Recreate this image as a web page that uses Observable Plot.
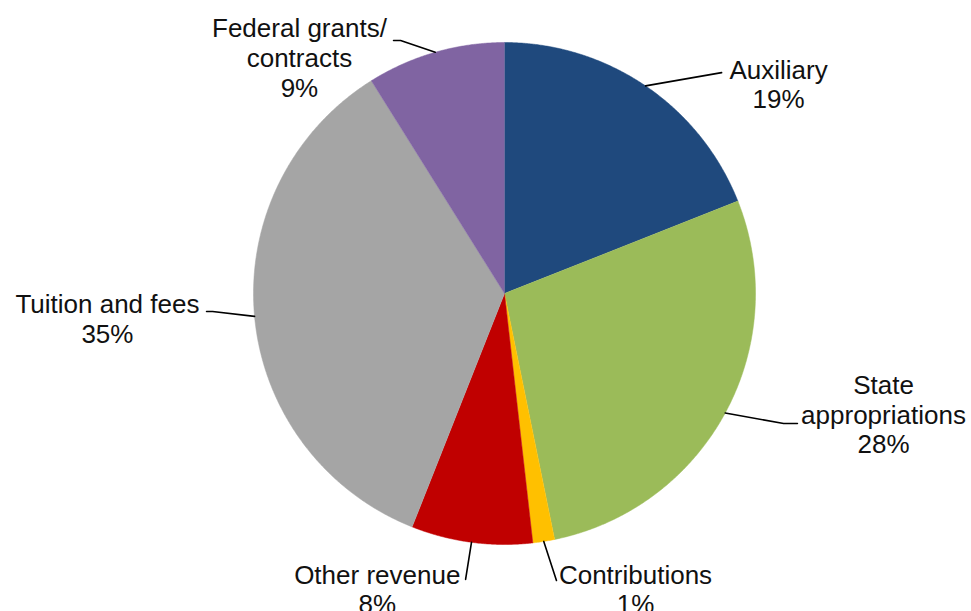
<!DOCTYPE html>
<html>
<head>
<meta charset="utf-8">
<script src="https://cdn.jsdelivr.net/npm/d3@7"></script>
<script src="https://cdn.jsdelivr.net/npm/@observablehq/plot@0.6"></script>
<style>
  html, body { margin: 0; padding: 0; background: #fff; }
  #chart { width: 971px; height: 611px; }
</style>
</head>
<body>
<div id="chart"></div>
<script>
// ---- data ----
const categories = ["Auxiliary", "State appropriations", "Contributions", "Other revenue", "Tuition and fees", "Federal grants/contracts"];
const shares = [19.0, 27.8, 1.4, 7.8, 35.1, 8.9];
const labelLines = [
  ["Auxiliary", "19%"],
  ["State", "appropriations", "28%"],
  ["Contributions", "1%"],
  ["Other revenue", "8%"],
  ["Tuition and fees", "35%"],
  ["Federal grants/", "contracts", "9%"]
];
const colors = ["#1F497D", "#9BBB59", "#FFC000", "#C00000", "#A5A5A5", "#8064A2"];

// ---- annotation layout (in pie-radius units, centre = 0,0, y up) ----
const labelAt = [[1.092, 0.835], [1.510, -0.480], [0.522, -1.177], [-0.507, -1.177], [-1.582, -0.100], [-0.817, 0.941]];
const leaderBends = [
  [[0.865, 0.880]],
  [[1.112, -0.518], [1.167, -0.518]],
  [[0.207, -1.143]],
  [[-0.155, -1.139]],
  [[-1.163, -0.072], [-1.187, -0.072]],
  [[-0.414, 1.008], [-0.442, 1.008]]
];

// ---- build geometry ----
const pie = d3.pie().sort(null).value(d => d.value)(categories.map((name, i) => ({name, value: shares[i]})));
const slicePts = [];
const leaderPts = [];
pie.forEach((a, i) => {
  const name = a.data.name;
  slicePts.push({name, x: 0, y: 0});
  const n = Math.max(4, Math.ceil((a.endAngle - a.startAngle) / 0.005));
  for (let k = 0; k <= n; k++) {
    const t = a.startAngle + (a.endAngle - a.startAngle) * k / n;
    slicePts.push({name, x: Math.sin(t), y: Math.cos(t)});
  }
  const mid = (a.startAngle + a.endAngle) / 2;
  leaderPts.push({name, x: Math.sin(mid), y: Math.cos(mid)});
  leaderBends[i].forEach(([x, y]) => leaderPts.push({name, x, y}));
});
const labels = categories.map((name, i) => ({name, x: labelAt[i][0], y: labelAt[i][1], text: labelLines[i].join("\n")}));

const R = 251;
const chart = Plot.plot({
  width: 971,
  height: 611,
  margin: 0,
  x: {domain: [-504 / R, 467 / R], axis: null},
  y: {domain: [-318 / R, 293 / R], axis: null},
  color: {domain: categories, range: colors},
  style: {fontFamily: "'Liberation Sans', Arial, sans-serif", background: "#fff"},
  marks: [
    Plot.line(slicePts, {x: "x", y: "y", z: "name", fill: "name", stroke: "name", strokeWidth: 0.5}),
    Plot.line(leaderPts, {x: "x", y: "y", z: "name", stroke: "#000", strokeWidth: 1.6}),
    Plot.text(labels, {x: "x", y: "y", text: "text", fontSize: 26, lineHeight: 1.15, fill: "#111"})
  ]
});
document.getElementById("chart").appendChild(chart);
</script>
</body>
</html>
